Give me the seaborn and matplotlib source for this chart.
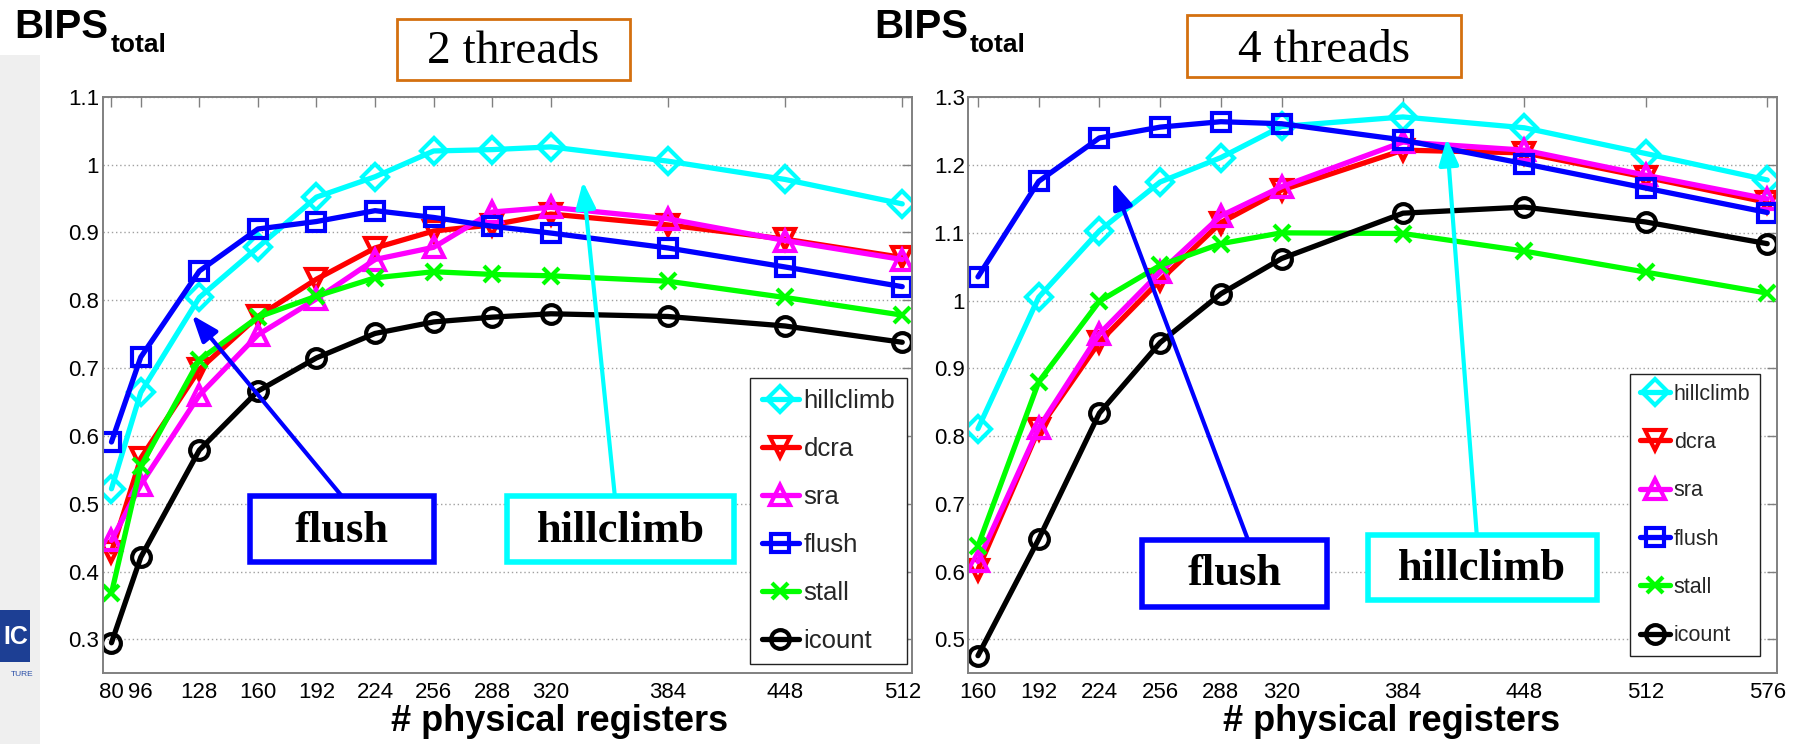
import matplotlib
matplotlib.use("Agg")
import matplotlib.pyplot as plt
import matplotlib.patches as mpatches
from matplotlib import font_manager as fm
import seaborn as sns

# ---- data -------------------------------------------------------------
regs_2t = [80, 96, 128, 160, 192, 224, 256, 288, 320, 384, 448, 512]
hillclimb_2t = [0.522, 0.664, 0.804, 0.878, 0.952, 0.982, 1.020, 1.022, 1.026, 1.005, 0.978, 0.942]
dcra_2t = [0.429, 0.567, 0.698, 0.776, 0.831, 0.877, 0.902, 0.911, 0.927, 0.911, 0.890, 0.863]
sra_2t = [0.446, 0.528, 0.660, 0.749, 0.802, 0.860, 0.878, 0.930, 0.937, 0.920, 0.888, 0.860]
flush_2t = [0.591, 0.716, 0.843, 0.905, 0.916, 0.932, 0.922, 0.909, 0.899, 0.877, 0.849, 0.820]
stall_2t = [0.368, 0.555, 0.712, 0.775, 0.806, 0.833, 0.842, 0.838, 0.836, 0.828, 0.804, 0.778]
icount_2t = [0.295, 0.421, 0.579, 0.666, 0.715, 0.751, 0.768, 0.775, 0.780, 0.776, 0.762, 0.738]

regs_4t = [160, 192, 224, 256, 288, 320, 384, 448, 512, 576]
hillclimb_4t = [0.811, 1.005, 1.103, 1.175, 1.211, 1.257, 1.271, 1.255, 1.217, 1.178]
dcra_4t = [0.603, 0.810, 0.939, 1.030, 1.115, 1.163, 1.222, 1.218, 1.182, 1.145]
sra_4t = [0.615, 0.812, 0.951, 1.042, 1.125, 1.168, 1.234, 1.222, 1.185, 1.150]
flush_4t = [1.035, 1.176, 1.240, 1.256, 1.264, 1.261, 1.237, 1.202, 1.166, 1.130]
stall_4t = [0.638, 0.880, 0.999, 1.052, 1.084, 1.100, 1.099, 1.073, 1.042, 1.011]
icount_4t = [0.476, 0.648, 0.834, 0.938, 1.010, 1.062, 1.129, 1.138, 1.116, 1.084]

policies = ["hillclimb", "dcra", "sra", "flush", "stall", "icount"]

yticks_2t = [0.3, 0.4, 0.5, 0.6, 0.7, 0.8, 0.9, 1.0, 1.1]
yticklabels_2t = ["0.3", "0.4", "0.5", "0.6", "0.7", "0.8", "0.9", "1", "1.1"]
yticks_4t = [0.5, 0.6, 0.7, 0.8, 0.9, 1.0, 1.1, 1.2, 1.3]
yticklabels_4t = ["0.5", "0.6", "0.7", "0.8", "0.9", "1", "1.1", "1.2", "1.3"]

panel_titles = ["2 threads", "4 threads"]
y_title = "BIPS"
y_title_sub = "total"
x_title = "# physical registers"

# ---- styling ----------------------------------------------------------
sns.set_style("white")
names = {f.name for f in fm.fontManager.ttflist}
NARROW = "Liberation Sans Narrow" if "Liberation Sans Narrow" in names else "Liberation Sans"
plt.rcParams["font.family"] = [NARROW, "DejaVu Sans"]
SERIF = ["Liberation Serif", "DejaVu Serif"]
BOLD_SANS = ["Liberation Sans", "DejaVu Sans"]

styles = {
    "hillclimb": dict(color="#00ffff", marker="D", markersize=13),
    "dcra": dict(color="#ff0000", marker="v", markersize=15),
    "sra": dict(color="#ff00ff", marker="^", markersize=15),
    "flush": dict(color="#0000ff", marker="s", markersize=12.5),
    "stall": dict(color="#00ff00", marker="x", markersize=11),
    "icount": dict(color="#000000", marker="o", markersize=13.5),
}

W, H = 1800, 744
fig = plt.figure(figsize=(W / 100, H / 100), dpi=100)
fig.patch.set_facecolor("white")


def fx(px):
    return px / W


def fy(py):
    return 1 - py / H


# light side strip with a clipped logo
fig.patches.append(mpatches.Rectangle((0, 0), fx(40), fy(55), transform=fig.transFigure,
                                      facecolor="#efefef", edgecolor="none", zorder=0))
fig.patches.append(mpatches.Rectangle((0, fy(662)), fx(30), fy(610) - fy(662), transform=fig.transFigure,
                                      facecolor="#1d3f94", edgecolor="none", zorder=1))
fig.text(fx(16), fy(637), "IC", color="white", fontsize=18, fontweight="bold",
         family=BOLD_SANS, ha="center", va="center")
fig.text(fx(22), fy(674), "TURE", color="#2a4fa8", fontsize=6, family=BOLD_SANS,
         ha="center", va="center")

panels = [
    dict(rect=[fx(102.5), fy(673.3), fx(912.3) - fx(102.5), fy(96.7) - fy(673.3)],
         regs=regs_2t, xlim=(75.1, 517.5), ylim=(0.25, 1.1),
         series=[hillclimb_2t, dcra_2t, sra_2t, flush_2t, stall_2t, icount_2t],
         yticks=yticks_2t, yticklabels=yticklabels_2t,
         legend_fs=18.5, legend_anchor=(906.7, 664.3), legend_sp=0.93, legend_hl=1.44),
    dict(rect=[fx(968.3), fy(673.3), fx(1777.3) - fx(968.3), fy(97.3) - fy(673.3)],
         regs=regs_4t, xlim=(154.9, 581.3), ylim=(0.45, 1.3),
         series=[hillclimb_4t, dcra_4t, sra_4t, flush_4t, stall_4t, icount_4t],
         yticks=yticks_4t, yticklabels=yticklabels_4t,
         legend_fs=15.5, legend_anchor=(1760, 656), legend_sp=1.27, legend_hl=1.4),
]

axes = []
for p in panels:
    ax = fig.add_axes(p["rect"])
    axes.append(ax)
    for name, vals in zip(policies, p["series"]):
        st = styles[name]
        sns.lineplot(x=p["regs"], y=vals, ax=ax, color=st["color"], linewidth=3.8,
                     marker=st["marker"], markersize=st["markersize"],
                     markerfacecolor="none", markeredgecolor=st["color"],
                     markeredgewidth=3.0, label=name, legend=False, sort=False)
    ax.set_xlim(*p["xlim"])
    ax.set_ylim(*p["ylim"])
    ax.set_xticks(p["regs"])
    ax.set_xticklabels([str(r) for r in p["regs"]])
    ax.set_yticks(p["yticks"])
    ax.set_yticklabels(p["yticklabels"])
    ax.set_xlabel("")
    ax.set_ylabel("")
    ax.yaxis.grid(True, linestyle=(0, (1, 2)), color="#a0a0a0", linewidth=1.0)
    ax.xaxis.grid(False)
    ax.set_axisbelow(True)
    for s in ax.spines.values():
        s.set_color("#808080")
        s.set_linewidth(1.4)
        s.set_visible(True)
    ax.tick_params(axis="both", direction="in", length=7, width=1.0, color="#808080",
                   top=True, right=True, labelsize=16, labelcolor="black")
    ax.tick_params(axis="x", pad=6)
    ax.tick_params(axis="y", pad=2.5)

    handles, labels = ax.get_legend_handles_labels()
    ax_px_left = p["rect"][0] * W
    ax_px_width = p["rect"][2] * W
    ax_px_bottom = (1 - p["rect"][1]) * H
    ax_px_height = p["rect"][3] * H
    ax_anchor = ((p["legend_anchor"][0] - ax_px_left) / ax_px_width,
                 (ax_px_bottom - p["legend_anchor"][1]) / ax_px_height)
    leg = ax.legend(handles, labels, loc="lower right", bbox_to_anchor=ax_anchor,
                    borderaxespad=0, fontsize=p["legend_fs"], frameon=True,
                    fancybox=False, framealpha=1, edgecolor="#222222",
                    handlelength=p["legend_hl"], handletextpad=0.18, borderpad=0.45,
                    labelspacing=p["legend_sp"], numpoints=1)
    leg.get_frame().set_linewidth(1.0)

# ---- callout arrows ---------------------------------------------------
arrow_specs = [
    (axes[0], (124.0, 0.778), (205.9, 0.511), "#0000ff"),
    (axes[0], (337.6, 0.975), (355.0, 0.511), "#00ffff"),
    (axes[1], (231.2, 1.175), (302.3, 0.647), "#0000ff"),
    (axes[1], (407.1, 1.2395), (422.9, 0.654), "#00ffff"),
]
for ax, tip, start, col in arrow_specs:
    ax.annotate("", xy=tip, xytext=start, xycoords="data", textcoords="data",
                arrowprops=dict(arrowstyle="-|>,head_length=0.8,head_width=0.3",
                                color=col, lw=3.0, shrinkA=0, shrinkB=0,
                                mutation_scale=20), zorder=6, annotation_clip=False)

# ---- callout boxes ----------------------------------------------------
callouts = [
    ("flush", (250, 496, 434, 562), 541.5, "#0000ff"),
    ("hillclimb", (506.7, 496, 734.3, 562.3), 541.5, "#00ffff"),
    ("flush", (1141.7, 540, 1326.7, 606.7), 585, "#0000ff"),
    ("hillclimb", (1368, 535, 1596.7, 600), 580, "#00ffff"),
]
for label, (x0, y0, x1, y1), base, col in callouts:
    fig.patches.append(mpatches.Rectangle((fx(x0), fy(y1)), fx(x1) - fx(x0), fy(y0) - fy(y1),
                                          transform=fig.transFigure, facecolor="white",
                                          edgecolor=col, linewidth=4.0, zorder=10))
    fig.text(fx((x0 + x1) / 2), fy(base), label, family=SERIF, fontweight="bold",
             fontsize=32, ha="center", va="baseline", color="black", zorder=11)

# ---- panel title boxes -------------------------------------------------
title_boxes = [(396.7, 19, 630, 80, 63.3), (1187, 15, 1461, 77, 61.7)]
for title, (x0, y0, x1, y1, base) in zip(panel_titles, title_boxes):
    fig.patches.append(mpatches.Rectangle((fx(x0), fy(y1)), fx(x1) - fx(x0), fy(y0) - fy(y1),
                                          transform=fig.transFigure, facecolor="white",
                                          edgecolor="#d4700f", linewidth=2.0, zorder=10))
    fig.text(fx((x0 + x1) / 2), fy(base), title, family=SERIF, fontsize=34,
             ha="center", va="baseline", color="black", zorder=11)

# ---- y titles (BIPS_total) and x titles --------------------------------
for bx, sx in [(14, 111), (874, 970)]:
    fig.text(fx(bx), fy(38), y_title, family=BOLD_SANS, fontweight="bold", fontsize=29,
             ha="left", va="baseline", color="black")
    fig.text(fx(sx), fy(52), y_title_sub, family=BOLD_SANS, fontweight="bold", fontsize=19,
             ha="left", va="baseline", color="black")

for cx in [560, 1391.5]:
    fig.text(fx(cx), fy(731), x_title, family=BOLD_SANS, fontweight="bold", fontsize=26,
             ha="center", va="baseline", color="black")

fig.savefig("out.png", dpi=100, facecolor="white")
